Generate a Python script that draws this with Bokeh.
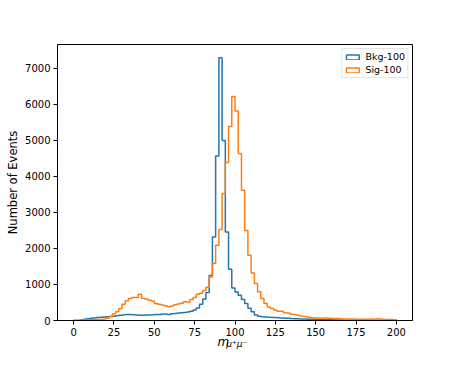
import numpy as np
from bokeh.plotting import figure
from bokeh.models import Range1d, FixedTicker, Label, Legend, LegendItem
from bokeh.embed import file_html
from bokeh.resources import INLINE

# ---- data -------------------------------------------------------------
bin_start = 0
bin_width = 2
n_bins = 100

bkg_counts = [
    0, 0, 20, 35, 50, 60, 72, 80, 90, 100,
    105, 110, 120, 135, 147, 155, 165, 165, 160, 150,
    145, 145, 150, 155, 160, 165, 170, 175, 180, 170,
    190, 195, 205, 215, 225, 235, 255, 290, 350, 450,
    600, 780, 1250, 2320, 4570, 7300, 5000, 2460, 1420, 900,
    790, 700, 580, 470, 340, 245, 150, 120, 105, 95,
    90, 85, 80, 75, 70, 65, 60, 55, 52, 50,
    45, 40, 36, 32, 30, 28, 26, 24, 22, 20,
    18, 16, 14, 12, 10, 9, 8, 7, 6, 5,
    4, 4, 3, 3, 3, 2, 2, 2, 1, 1,
]

sig_counts = [
    10, 10, 15, 15, 20, 20, 25, 25, 30, 45,
    60, 110, 190, 240, 330, 450, 550, 610, 640, 640,
    730, 620, 600, 560, 540, 470, 450, 430, 410, 380,
    400, 440, 460, 480, 520, 510, 580, 640, 730, 760,
    830, 920, 1210, 1580, 2090, 2530, 3530, 4390, 5390, 6220,
    5820, 4640, 3620, 2500, 1814, 1320, 1027, 795, 611, 472,
    378, 333, 286, 260, 255, 215, 205, 175, 170, 147,
    128, 110, 100, 80, 72, 68, 65, 62, 66, 60,
    58, 55, 48, 45, 44, 42, 40, 38, 36, 35,
    34, 38, 45, 36, 48, 32, 30, 28, 25, 22,
]

series_labels = ["Bkg-100", "Sig-100"]
series_colors = ["#1f77b4", "#ff7f0e"]

x_ticks = [0, 25, 50, 75, 100, 125, 150, 175, 200]
y_ticks = [0, 1000, 2000, 3000, 4000, 5000, 6000, 7000]

# ---- helpers ----------------------------------------------------------
edges = bin_start + bin_width * np.arange(n_bins + 1)


def step_path(counts):
    c = np.asarray(counts, dtype=float)
    xs = np.repeat(edges, 2)
    ys = np.concatenate([[0.0], np.repeat(c, 2), [0.0]])
    return xs, ys


x_lo, x_hi = edges[0], edges[-1]
x_pad = 0.05 * (x_hi - x_lo)
y_max = max(max(bkg_counts), max(sig_counts)) * 1.05

FONT = "DejaVu Sans"

p = figure(
    frame_width=355,
    frame_height=276,
    min_border_left=57,
    min_border_top=44,
    min_border_right=30,
    min_border_bottom=40,
    output_backend="svg",
    toolbar_location=None,
    x_range=Range1d(x_lo - x_pad, x_hi + x_pad),
    y_range=Range1d(0, y_max),
)
p.background_fill_color = "white"
p.border_fill_color = "white"
p.outline_line_color = "black"
p.outline_line_width = 1
p.xgrid.visible = False
p.ygrid.visible = False

for ax in (p.xaxis[0], p.yaxis[0]):
    ax.axis_line_color = "black"
    ax.major_tick_line_color = "black"
    ax.minor_tick_line_color = None
    ax.major_tick_out = 4
    ax.major_tick_in = 0
    ax.major_label_text_font = FONT
    ax.major_label_text_font_size = "10px"
    ax.major_label_text_color = "black"
    ax.major_label_standoff = 3

p.xaxis.ticker = FixedTicker(ticks=x_ticks)
p.yaxis.ticker = FixedTicker(ticks=y_ticks)

p.yaxis.axis_label = "Number of Events"
p.yaxis.axis_label_text_font = FONT
p.yaxis.axis_label_text_font_style = "normal"
p.yaxis.axis_label_text_font_size = "11.5px"
p.yaxis.axis_label_text_color = "black"
p.yaxis.axis_label_standoff = 2

# step histograms
for counts, color in zip([bkg_counts, sig_counts], series_colors):
    xs, ys = step_path(counts)
    p.line(xs, ys, line_color=color, line_width=1.5)

# legend proxies (outlined rectangles like matplotlib step patches)
items = []
for lab, color in zip(series_labels, series_colors):
    r = p.quad(left=[np.nan], right=[np.nan], top=[np.nan], bottom=[np.nan],
               fill_color="white", fill_alpha=0, line_color=color, line_width=1.5)
    items.append(LegendItem(label=lab, renderers=[r]))

legend = Legend(items=items, location="top_right")
legend.label_text_font = FONT
legend.label_text_font_size = "9.5px"
legend.label_text_color = "black"
legend.glyph_width = 16
legend.glyph_height = 6
legend.label_height = 10
legend.label_standoff = 5
legend.spacing = 2
legend.padding = 2
legend.margin = 4
legend.border_line_color = "#cccccc"
legend.border_line_width = 1
legend.background_fill_alpha = 0.8
p.add_layout(legend)

# x-axis label  m_{mu+ mu-}  (placed in the panel below the x axis)
p.add_layout(Label(x=89.2, y=11, x_units="data", y_units="screen",
                   text="m", text_font=FONT,
                   text_font_style="italic", text_font_size="12px",
                   text_color="black", text_baseline="alphabetic"), "below")
p.add_layout(Label(x=94.6, y=19, x_units="data", y_units="screen",
                   text="μ⁺μ⁻", text_font=FONT,
                   text_font_style="italic", text_font_size="9px",
                   text_color="black", text_baseline="alphabetic"), "below")

open("out.html", "w").write(file_html(p, INLINE))
